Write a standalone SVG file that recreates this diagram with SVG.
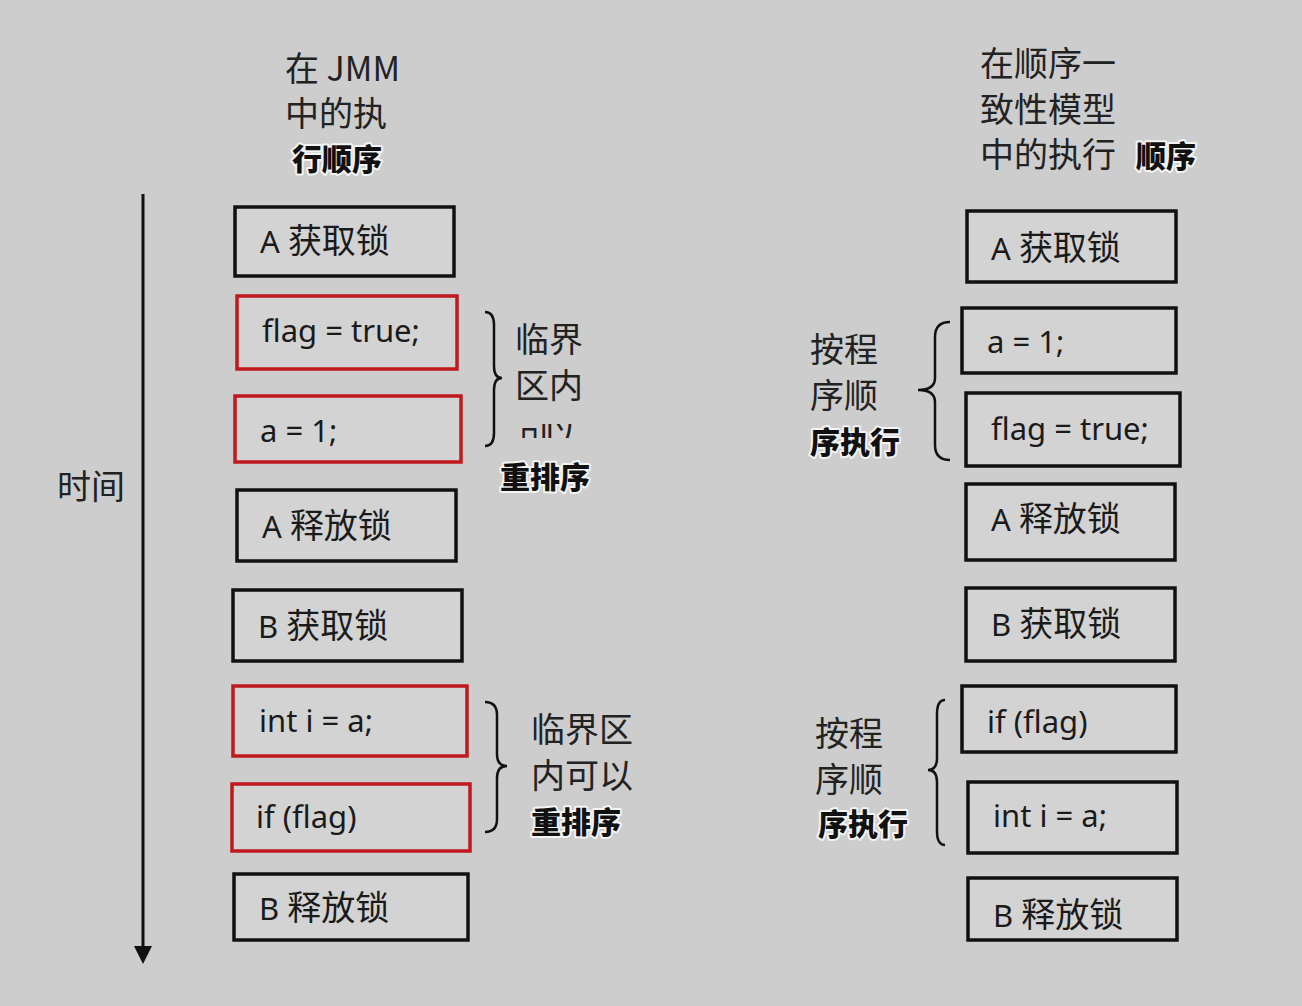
<svg xmlns="http://www.w3.org/2000/svg" width="1302" height="1006" viewBox="0 0 1302 1006">
<style>
.bx{fill:#d3d3d3;stroke:#111;stroke-width:3.5}
.red{stroke:#c0181c}
.t{font-family:"Noto Sans","Noto Sans CJK SC",sans-serif;font-size:31px;fill:#1a1a1a}
.c{font-family:"Noto Sans CJK SC",sans-serif;font-size:34px}
.h{font-family:"Noto Sans CJK SC",sans-serif;font-size:34px;fill:#222}
.b{font-family:"Noto Sans CJK SC",sans-serif;font-size:30px;font-weight:900;fill:#111;stroke:#f4f4f4;stroke-width:4;paint-order:stroke;stroke-linejoin:round}
.br{fill:none;stroke:#111;stroke-width:2.5}
</style>
<defs>
<clipPath id="cut"><rect x="505" y="424" width="90" height="14"/></clipPath>
</defs>
<rect width="1302" height="1006" fill="#cdcdcd"/>

<g id="headers">
<text class="h" x="285" y="81">在 JMM</text>
<text class="h" x="285" y="126">中的执</text>
<text class="b" x="292" y="170">行顺序</text>
<text class="h" x="980" y="76">在顺序一</text>
<text class="h" x="980" y="122">致性模型</text>
<text class="h" x="980" y="167">中的执行</text>
<text class="b" x="1136" y="167">顺序</text>
</g>

<g id="connectors">
<line x1="143" y1="194" x2="143" y2="950" stroke="#111" stroke-width="3"/>
<polygon points="134,946 152,946 143,964" fill="#111"/>
<path class="br" d="M485,312 Q494,312 494,325 L494,366 Q494,378 502,378 Q494,378 494,390 L494,433 Q494,446 485,446"/>
<path class="br" d="M485,702 Q497,702 497,715 L497,754 Q497,766 507,766 Q497,766 497,778 L497,819 Q497,832 485,832"/>
<path class="br" d="M950,322 Q935,322 935,337 L935,378 Q935,390 918,390 Q935,390 935,402 L935,445 Q935,460 950,460"/>
<path class="br" d="M945,700 Q937,700 937,714 L937,758 Q937,770 928,770 Q937,770 937,782 L937,831 Q937,845 945,845"/>
</g>

<g id="time"><text class="h" x="57" y="499">时间</text></g>

<g id="label-l1">
<text class="h" x="515" y="352">临界</text>
<text class="h" x="515" y="398">区内</text>
<text class="h" x="517" y="447" font-size="24" textLength="60" clip-path="url(#cut)">可以</text>
<text class="b" x="500" y="488">重排序</text>
</g>
<g id="label-l2">
<text class="h" x="531" y="742">临界区</text>
<text class="h" x="531" y="788">内可以</text>
<text class="b" x="531" y="833">重排序</text>
</g>
<g id="label-r1">
<text class="h" x="810" y="362">按程</text>
<text class="h" x="810" y="408">序顺</text>
<text class="b" x="810" y="453">序执行</text>
</g>
<g id="label-r2">
<text class="h" x="815" y="746">按程</text>
<text class="h" x="815" y="792">序顺</text>
<text class="b" x="818" y="835">序执行</text>
</g>

<g id="L1"><rect class="bx" x="235" y="207" width="219" height="69"/><text class="t" x="260" y="253">A <tspan class="c">获取锁</tspan></text></g>
<g id="L2"><rect class="bx red" x="237" y="296" width="220" height="73"/><text class="t" x="262" y="342">flag = true;</text></g>
<g id="L3"><rect class="bx red" x="235" y="396" width="226" height="66"/><text class="t" x="260" y="442">a = 1;</text></g>
<g id="L4"><rect class="bx" x="237" y="490" width="219" height="71"/><text class="t" x="262" y="538">A <tspan class="c">释放锁</tspan></text></g>
<g id="L5"><rect class="bx" x="233" y="590" width="229" height="71"/><text class="t" x="258" y="638">B <tspan class="c">获取锁</tspan></text></g>
<g id="L6"><rect class="bx red" x="233" y="686" width="234" height="70"/><text class="t" x="259" y="732">int i = a;</text></g>
<g id="L7"><rect class="bx red" x="232" y="784" width="238" height="67"/><text class="t" x="256" y="828">if (flag)</text></g>
<g id="L8"><rect class="bx" x="234" y="874" width="234" height="66"/><text class="t" x="259" y="920">B <tspan class="c">释放锁</tspan></text></g>

<g id="R1"><rect class="bx" x="967" y="211" width="209" height="71"/><text class="t" x="991" y="260">A <tspan class="c">获取锁</tspan></text></g>
<g id="R2"><rect class="bx" x="962" y="308" width="214" height="65"/><text class="t" x="987" y="353">a = 1;</text></g>
<g id="R3"><rect class="bx" x="966" y="393" width="214" height="73"/><text class="t" x="991" y="440">flag = true;</text></g>
<g id="R4"><rect class="bx" x="966" y="484" width="209" height="76"/><text class="t" x="991" y="531">A <tspan class="c">释放锁</tspan></text></g>
<g id="R5"><rect class="bx" x="966" y="588" width="209" height="73"/><text class="t" x="991" y="636">B <tspan class="c">获取锁</tspan></text></g>
<g id="R6"><rect class="bx" x="962" y="686" width="214" height="66"/><text class="t" x="987" y="733">if (flag)</text></g>
<g id="R7"><rect class="bx" x="968" y="782" width="209" height="71"/><text class="t" x="993" y="827">int i = a;</text></g>
<g id="R8"><rect class="bx" x="968" y="878" width="209" height="62"/><text class="t" x="993" y="927">B <tspan class="c">释放锁</tspan></text></g>
</svg>
